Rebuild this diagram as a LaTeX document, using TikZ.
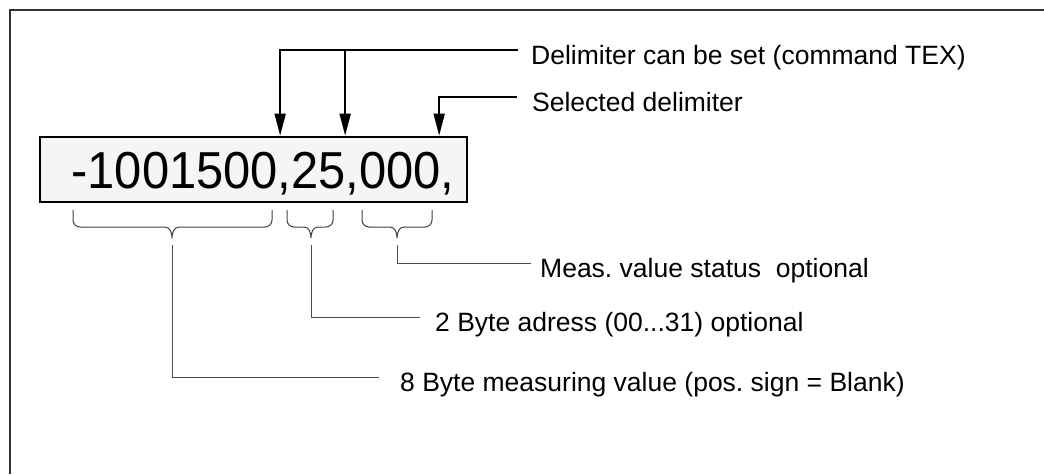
\documentclass[tikz,border=0pt]{standalone}
\usepackage{fontspec}
\setmainfont{Liberation Sans}
\usetikzlibrary{arrows.meta,positioning}
\frenchspacing

\begin{document}
\begin{tikzpicture}[x=1pt,y=1pt,
		frame/.style={line width=2pt,black!80},
		numbox/.style={draw,line width=2.7pt,fill=black!4,minimum width=427pt,minimum height=65pt,inner sep=0pt,text height=37pt,text depth=0pt},
		lbl/.style={anchor=west,inner sep=0pt,text height=28pt,text depth=0pt,font=\fontsize{26.5}{30}\selectfont},
		arr/.style={line width=1.8pt,-{Triangle[length=22pt,width=11pt]}},
		lead/.style={line width=1pt,black!70},
		brc/.style={line width=1pt,black!75}]
		\useasboundingbox (0,0) rectangle (1044,-474);
		\draw[frame] (1044,-9.5) -- (9.5,-9.5) -- (9.5,-474);
		
		\node[numbox] (val) at (253.5,-169.5) {\hspace*{19pt}\scalebox{0.94}[1]{\fontsize{52}{52}\selectfont -1001500,25,000,}};
		
		\foreach \xa/\xb/\xm/\n in {73/272/172/1, 287/333/311/2, 362/432/397/3}{
			\draw[brc] (\xa,-210) -- (\xa,-220) to[out=-90,in=180] (\xa+7,-227) -- (\xm-7,-227) to[out=0,in=90] (\xm,-238) to[out=90,in=180] (\xm+7,-227) -- (\xb-7,-227) to[out=0,in=-90] (\xb,-220) -- (\xb,-210);
			\coordinate (b\n) at (\xm,-245);
		}
		
		\node[lbl] (dtex) at (531,-50) {Delimiter can be set (command TEX)};
		\node[lbl] (stex) at (532,-97) {Selected delimiter};
		\node[lbl] (mtex) at (540,-263) {Meas. value status\ \ optional};
		\node[lbl] (atex) at (435,-317) {2 Byte adress (00...31) optional};
		\node[lbl] (vtex) at (400,-377) {8 Byte measuring value (pos. sign = Blank)};
		
		\path (val.north west) ++(241.5,0) coordinate (d1) ++(65,0) coordinate (d2) ++(94,0) coordinate (d3);
		\draw[arr] ([xshift=-13pt]dtex.west) -| (d1);
		\draw[arr] (d2 |- dtex.west) -- (d2);
		\draw[arr] ([xshift=-15pt]stex.west) -| (d3);
		
		\draw[lead] (b3) |- ([xshift=-9pt]mtex.west);
		\draw[lead] (b2) |- ([xshift=-15pt]atex.west);
		\draw[lead] (b1) |- ([xshift=-21pt]vtex.west);
	\end{tikzpicture}
\end{document}
